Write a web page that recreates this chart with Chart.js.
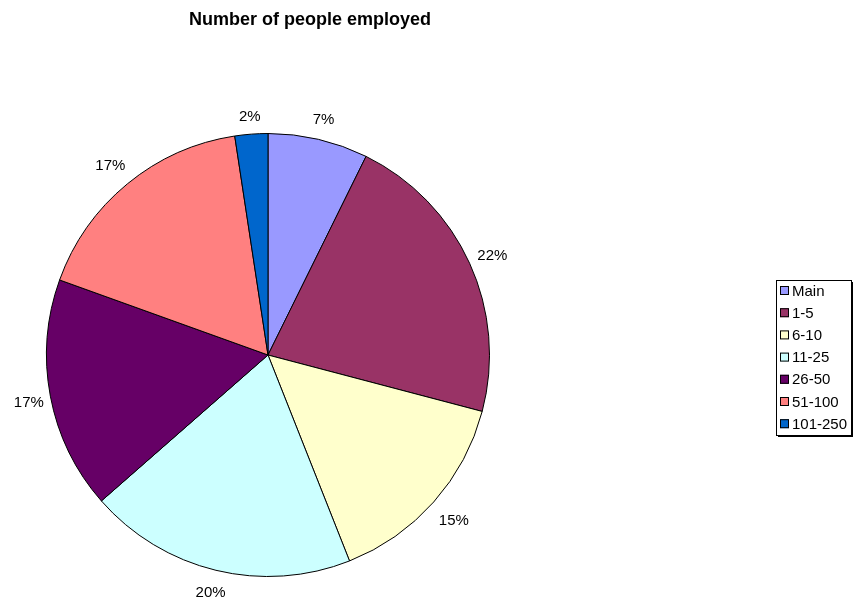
<!DOCTYPE html>
<html>
<head>
<meta charset="utf-8">
<script src="https://cdn.jsdelivr.net/npm/chart.js@4"></script>
<style>
  html, body { margin: 0; padding: 0; background: #fff; }
  #wrap { width: 853px; height: 597px; position: relative; }
</style>
</head>
<body>
<div id="wrap"><canvas id="pie"></canvas></div>
<script>
  // slice data (percent of total)
  var categories = ["Main", "1-5", "6-10", "11-25", "26-50", "51-100", "101-250"];
  var shares = [7.3, 21.8, 14.9, 19.55, 16.95, 17.1, 2.4];
  var colors = ["#9999FF", "#993366", "#FFFFCC", "#CCFFFF", "#660066", "#FF8080", "#0066CC"];
  var titleText = "Number of people employed";
  var FONT = "Liberation Sans, Arial, sans-serif";

  // outside % labels, title and the boxed legend on the right
  var decor = {
    id: "decor",
    afterDraw: function (chart) {
      var ctx = chart.ctx;
      var meta = chart.getDatasetMeta(0);
      var total = shares.reduce(function (a, b) { return a + b; }, 0);
      ctx.save();
      ctx.fillStyle = "#000";
      ctx.textAlign = "center";
      ctx.textBaseline = "middle";
      ctx.font = "15px " + FONT;
      meta.data.forEach(function (arc, i) {
        var mid = (arc.startAngle + arc.endAngle) / 2;
        var c = Math.cos(mid), s = Math.sin(mid);
        // label box sits a bit further out on the diagonals
        var r = arc.outerRadius + 19 + 16 * Math.abs(c * s);
        var dy = 3 * (1 - Math.max(0, s));
        ctx.fillText(Math.round(shares[i] / total * 100) + "%",
          arc.x + c * r, arc.y + s * r + dy);
      });

      ctx.font = "bold 18px " + FONT;
      ctx.fillText(titleText, 310, 20);

      // legend
      var lx = 776, ly = 280, lw = 76, lh = 156;
      ctx.fillStyle = "#000";
      ctx.fillRect(lx + 2, ly + lh, lw - 1, 1);
      ctx.fillRect(lx + lw, ly + 2, 1, lh - 1);
      ctx.fillStyle = "#fff";
      ctx.fillRect(lx, ly, lw, lh);
      ctx.strokeStyle = "#000";
      ctx.lineWidth = 1;
      ctx.strokeRect(lx + 0.5, ly + 0.5, lw - 1, lh - 1);
      ctx.textAlign = "left";
      ctx.font = "15px " + FONT;
      categories.forEach(function (c, i) {
        var y = ly + 11 + i * 22.2;
        ctx.fillStyle = colors[i];
        ctx.fillRect(lx + 4, y - 5, 9, 9);
        ctx.strokeStyle = "#000";
        ctx.strokeRect(lx + 4.5, y - 4.5, 8, 8);
        ctx.fillStyle = "#000";
        ctx.fillText(c, lx + 16, y + 0.5);
      });
      ctx.restore();
    }
  };

  new Chart(document.getElementById("pie"), {
    type: "pie",
    data: {
      labels: categories,
      datasets: [{
        data: shares,
        backgroundColor: colors,
        borderColor: "#000",
        borderWidth: 1
      }]
    },
    options: {
      responsive: true,
      maintainAspectRatio: false,
      animation: false,
      layout: { padding: { left: 46, right: 363, top: 133, bottom: 20 } },
      plugins: {
        legend: { display: false },
        title: { display: false },
        tooltip: { enabled: false }
      }
    },
    plugins: [decor]
  });
</script>
</body>
</html>
